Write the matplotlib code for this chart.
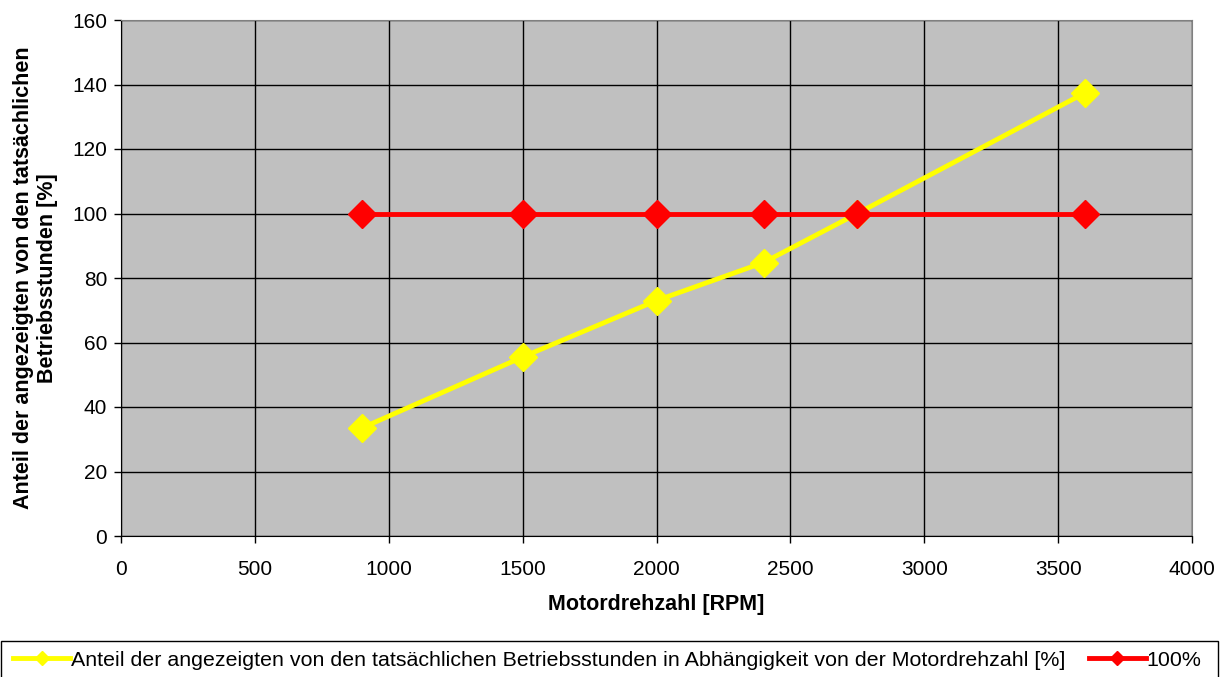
import matplotlib
matplotlib.use("Agg")
import matplotlib.pyplot as plt
from matplotlib.patches import Rectangle

plt.rcParams['font.family'] = ['Liberation Sans', 'DejaVu Sans']

rpm = [900, 1500, 2000, 2400, 2750, 3600]
anteil = [33.5, 55.5, 73.0, 84.8, 100.0, 137.4]
ref100 = [100, 100, 100, 100, 100, 100]

label_yellow = "Anteil der angezeigten von den tatsächlichen Betriebsstunden in Abhängigkeit von der Motordrehzahl [%]"
label_red = "100%"

fig = plt.figure(figsize=(12.28, 6.77), dpi=100)
ax = fig.add_axes([121/1228, 1 - 536/677, (1192-121)/1228, (536-20)/677])
ax.set_facecolor('#C0C0C0')

l1, = ax.plot(rpm, anteil, color='#FFFF00', lw=3.5, marker='D', ms=14.5, zorder=3, label=label_yellow)
l2, = ax.plot(rpm, ref100, color='#FF0000', lw=3.5, marker='D', ms=14.5, zorder=3, label=label_red)

ax.set_xlim(0, 4000)
ax.set_ylim(0, 160)
ax.set_xticks(range(0, 4001, 500))
ax.set_yticks(range(0, 161, 20))
ax.grid(True, color='black', lw=1)
ax.set_axisbelow(True)
ax.tick_params(direction='out', length=5, width=1, color='black', labelsize=15, pad=5)
ax.tick_params(axis='x', pad=12)
for s in ['top', 'right']:
    ax.spines[s].set_color('#808080')
for s in ['left', 'bottom']:
    ax.spines[s].set_color('black')

ax.set_xlabel("Motordrehzahl [RPM]", fontsize=15.5, fontweight='bold', labelpad=11)
ax.set_ylabel("Anteil der angezeigten von den tatsächlichen\nBetriebsstunden [%]", fontsize=15.5,
              fontweight='bold', labelpad=10)

fig.patches.append(Rectangle((1/1228, -0.02), 1217/1228, 0.02 + (677-641)/677,
                             transform=fig.transFigure, fill=False, edgecolor='black', lw=1))
leg = fig.legend(handles=[l1, l2], loc='center', bbox_to_anchor=(0.4947, 1 - 660/677), ncol=2,
                 frameon=False, fontsize=15.4, handlelength=2.65, handletextpad=0.05,
                 columnspacing=1.1, markerscale=0.46)

fig.savefig("out.png", dpi=100)
